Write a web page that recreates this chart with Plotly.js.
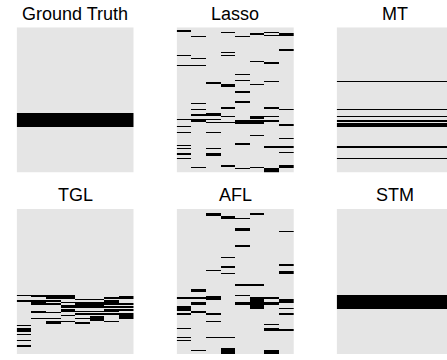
<!DOCTYPE html>
<html><head><meta charset="utf-8">
<script src="https://cdn.plot.ly/plotly-3.0.1.min.js"></script>
<style>html,body{margin:0;padding:0;background:#fff}</style>
</head><body><div id="chart" style="width:447px;height:360px"></div>
<script>
const nFeatures = 100;
const nTasks = 8;
const titles = ["Ground Truth", "Lasso", "MT", "TGL", "AFL", "STM"];

// active (non-zero) feature rows, shared by all tasks
const groundTruthRows = [59, 60, 61, 62, 63, 64, 65, 66, 67, 68];
const mtRows = [37, 56, 61, 64, 66, 67, 68, 82, 90];
const stmRows = [59, 60, 61, 62, 63, 64, 65, 66, 67, 68];

// active feature rows per task
const lassoRows = [
  [2, 19, 26, 63, 68, 72, 81, 83, 87, 90],
  [6, 21, 26, 52, 56, 60, 63, 64, 96],
  [38, 59, 60, 63, 65, 72, 83, 87, 88],
  [3, 17, 19, 39, 40, 55, 61, 65, 95],
  [6, 32, 36, 44, 51, 64, 65, 66, 80, 97],
  [4, 23, 39, 61, 62, 64, 65, 66, 74, 96],
  [3, 5, 24, 37, 55, 61, 64, 82, 97, 98, 99],
  [4, 5, 15, 56, 67, 76, 82, 86, 95, 96]
];
const tglRows = [
  [59, 63, 80, 82, 83, 84, 86, 90, 94],
  [59, 60, 63, 64, 65, 70, 71, 75],
  [59, 60, 61, 63, 65, 71, 75, 77, 78],
  [59, 60, 61, 64, 66, 67, 69, 70, 73, 77],
  [62, 64, 65, 66, 67, 70, 72, 75, 78],
  [62, 64, 65, 66, 67, 70, 72, 74, 75, 76],
  [61, 63, 64, 65, 67, 69, 70, 72, 77],
  [60, 61, 65, 67, 69, 72, 73, 74, 75]
];
const aflRows = [
  [61, 67, 68, 69, 72, 82, 88, 90],
  [55, 56, 61, 64, 65, 70, 71, 97],
  [3, 4, 42, 60, 61, 62, 72, 77, 88],
  [5, 6, 33, 39, 40, 44, 88, 96, 97, 98, 99],
  [6, 13, 14, 25, 52, 59, 64, 65],
  [3, 52, 61, 62, 63, 64, 65, 66, 67, 68],
  [61, 64, 65, 79, 82, 83, 97, 98, 99],
  [15, 38, 43, 44, 62, 63, 64, 68, 72, 83]
];

function sameForAll(rows) { return Array.from({length: nTasks}, () => rows); }
function buildZ(perTask) {
  const z = [];
  for (let r = 0; r < nFeatures; r++) z.push(new Array(nTasks).fill(0));
  perTask.forEach((rows, t) => rows.forEach(r => { z[r][t] = 1; }));
  return z;
}

const panels = [
  sameForAll(groundTruthRows), lassoRows, sameForAll(mtRows),
  tglRows, aflRows, sameForAll(stmRows)
];

const W = 447, H = 360;
const colPx = [[16.7, 133.7], [176.7, 294], [336.7, 447]];
const rowPx = [[27.3, 172.7], [209, 354.3]];
const fullW = 117;

const taskIdx = Array.from({length: nTasks}, (_, i) => i);
const featIdx = Array.from({length: nFeatures}, (_, i) => i);

const data = [];
const layout = {
  width: W, height: H,
  margin: {l: 0, r: 0, t: 0, b: 0},
  paper_bgcolor: '#ffffff', plot_bgcolor: '#ffffff',
  showlegend: false,
  annotations: []
};

panels.forEach((p, i) => {
  const row = Math.floor(i / 3), col = i % 3;
  const sfx = i === 0 ? '' : String(i + 1);
  data.push({
    type: 'heatmap', z: buildZ(p), x: taskIdx, y: featIdx,
    xaxis: 'x' + sfx, yaxis: 'y' + sfx,
    zmin: 0, zmax: 1, showscale: false, hoverinfo: 'skip',
    colorscale: [[0, '#e5e5e5'], [1, '#000000']]
  });
  const [x0, x1] = colPx[col], [y0, y1] = rowPx[row];
  const visW = x1 - x0;
  const xr = [-0.5, -0.5 + nTasks * Math.min(1, visW / fullW)];
  const ax = {showgrid: false, zeroline: false, showticklabels: false, ticks: '', showline: false, fixedrange: true};
  layout['xaxis' + sfx] = Object.assign({}, ax, {domain: [x0 / W, x1 / W], range: xr, anchor: 'y' + sfx});
  layout['yaxis' + sfx] = Object.assign({}, ax, {domain: [1 - y1 / H, 1 - y0 / H], range: [nFeatures - 0.5, -0.5], anchor: 'x' + sfx});
  const cx = (col === 2) ? (x0 + fullW / 2) : (x0 + x1) / 2;
  layout.annotations.push({
    text: titles[i], xref: 'paper', yref: 'paper',
    x: cx / W, y: 1 - (y0 - 13.5) / H, xanchor: 'center', yanchor: 'middle',
    showarrow: false, font: {family: 'Liberation Sans, Arial, sans-serif', size: 18, color: '#000000'}
  });
});

Plotly.newPlot('chart', data, layout, {displayModeBar: false, staticPlot: true});
</script></body></html>
